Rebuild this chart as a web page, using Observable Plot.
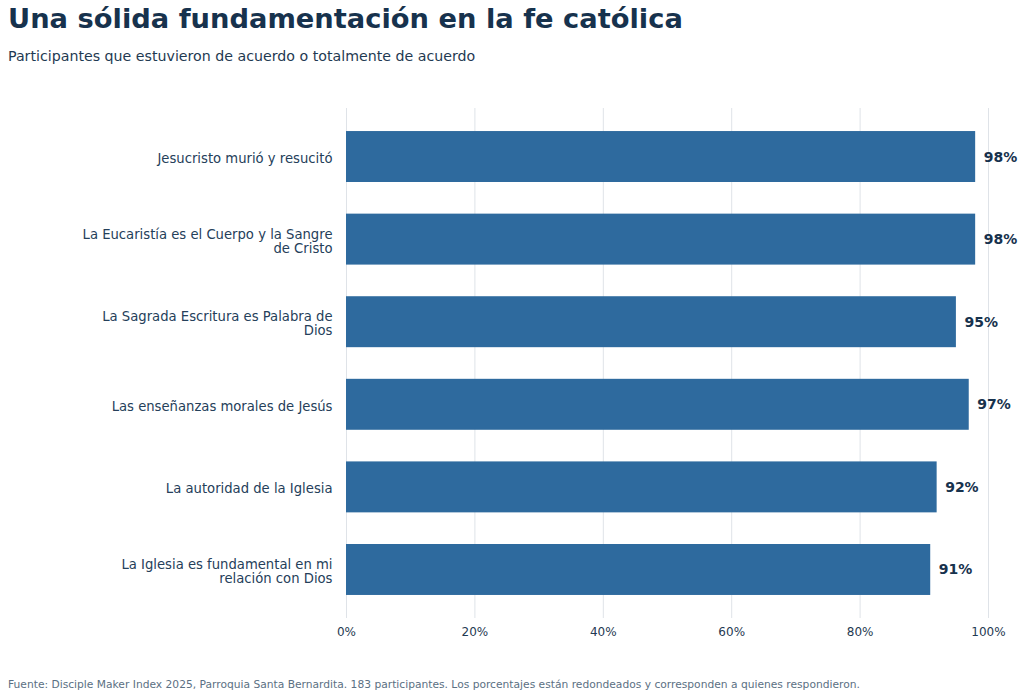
<!DOCTYPE html>
<html>
<head>
<meta charset="utf-8">
<script src="https://cdn.jsdelivr.net/npm/d3@7"></script>
<script src="https://cdn.jsdelivr.net/npm/@observablehq/plot@0.6"></script>
<style>
  body { margin: 0; background: #fff; font-family: "DejaVu Sans", sans-serif; }
  #wrap { position: relative; width: 1024px; height: 698px; overflow: hidden; }
  #title { position: absolute; left: 8px; top: 4px; font-size: 27.3px; line-height: 30px; font-weight: bold; color: #17324d; white-space: nowrap; }
  #subtitle { position: absolute; left: 8px; top: 47px; font-size: 14.2px; line-height: 18px; color: #1f3a52; white-space: nowrap; }
  #chart { position: absolute; left: 0; top: 80px; }
  #footer { position: absolute; left: 8px; top: 678px; font-size: 10.7px; line-height: 14px; color: #5b7083; white-space: nowrap; }
</style>
</head>
<body>
<div id="wrap">
  <div id="title">Una sólida fundamentación en la fe católica</div>
  <div id="subtitle">Participantes que estuvieron de acuerdo o totalmente de acuerdo</div>
  <div id="chart"></div>
  <div id="footer">Fuente: Disciple Maker Index 2025, Parroquia Santa Bernardita. 183 participantes. Los porcentajes están redondeados y corresponden a quienes respondieron.</div>
</div>
<script>
const categories = [
  "Jesucristo murió y resucitó",
  "La Eucaristía es el Cuerpo y la Sangre de Cristo",
  "La Sagrada Escritura es Palabra de Dios",
  "Las enseñanzas morales de Jesús",
  "La autoridad de la Iglesia",
  "La Iglesia es fundamental en mi relación con Dios"
];
const values = [98, 98, 95, 97, 92, 91];
const xTicks = [0, 20, 40, 60, 80, 100];

const data = categories.map((c, i) => ({category: c, value: values[i]}));

function wrap(s, width = 38) {
  const words = s.split(" ");
  const lines = [];
  let line = "";
  for (const w of words) {
    if (line && (line + " " + w).length > width) { lines.push(line); line = w; }
    else line = line ? line + " " + w : w;
  }
  if (line) lines.push(line);
  return lines.join("\n");
}

const chart = Plot.plot({
  width: 1024,
  height: 580,
  marginLeft: 346,
  marginRight: 36,
  marginTop: 28,
  marginBottom: 42,
  style: { fontFamily: "DejaVu Sans, sans-serif", color: "#1f3a52", background: "#fff" },
  x: { domain: [0, 100], ticks: xTicks, tickFormat: d => d + "%", label: null },
  y: { domain: categories, paddingInner: 0.383, paddingOuter: 0.279, round: false, label: null },
  marks: [
    Plot.gridX(xTicks, { stroke: "#dfe3e8", strokeOpacity: 1, strokeWidth: 1 }),
    Plot.barX(data, { x: "value", y: "category", fill: "#2e6a9e" }),
    Plot.text(data, {
      x: "value", y: "category", text: d => d.value + "%",
      textAnchor: "start", dx: 8, fontSize: 14, fontWeight: "bold", fill: "#17324d"
    }),
    Plot.axisX({ ticks: xTicks, tickFormat: d => d + "%", tickSize: 0, tickPadding: 9, fontSize: 12, fill: "#1f3a52", label: null }),
    Plot.axisY({ tickSize: 0, tickPadding: 14, dy: 1.5, fontSize: 13.2, fill: "#25405a", tickFormat: d => wrap(d), lineHeight: 1.08, label: null })
  ]
});
document.getElementById("chart").appendChild(chart);
</script>
</body>
</html>
